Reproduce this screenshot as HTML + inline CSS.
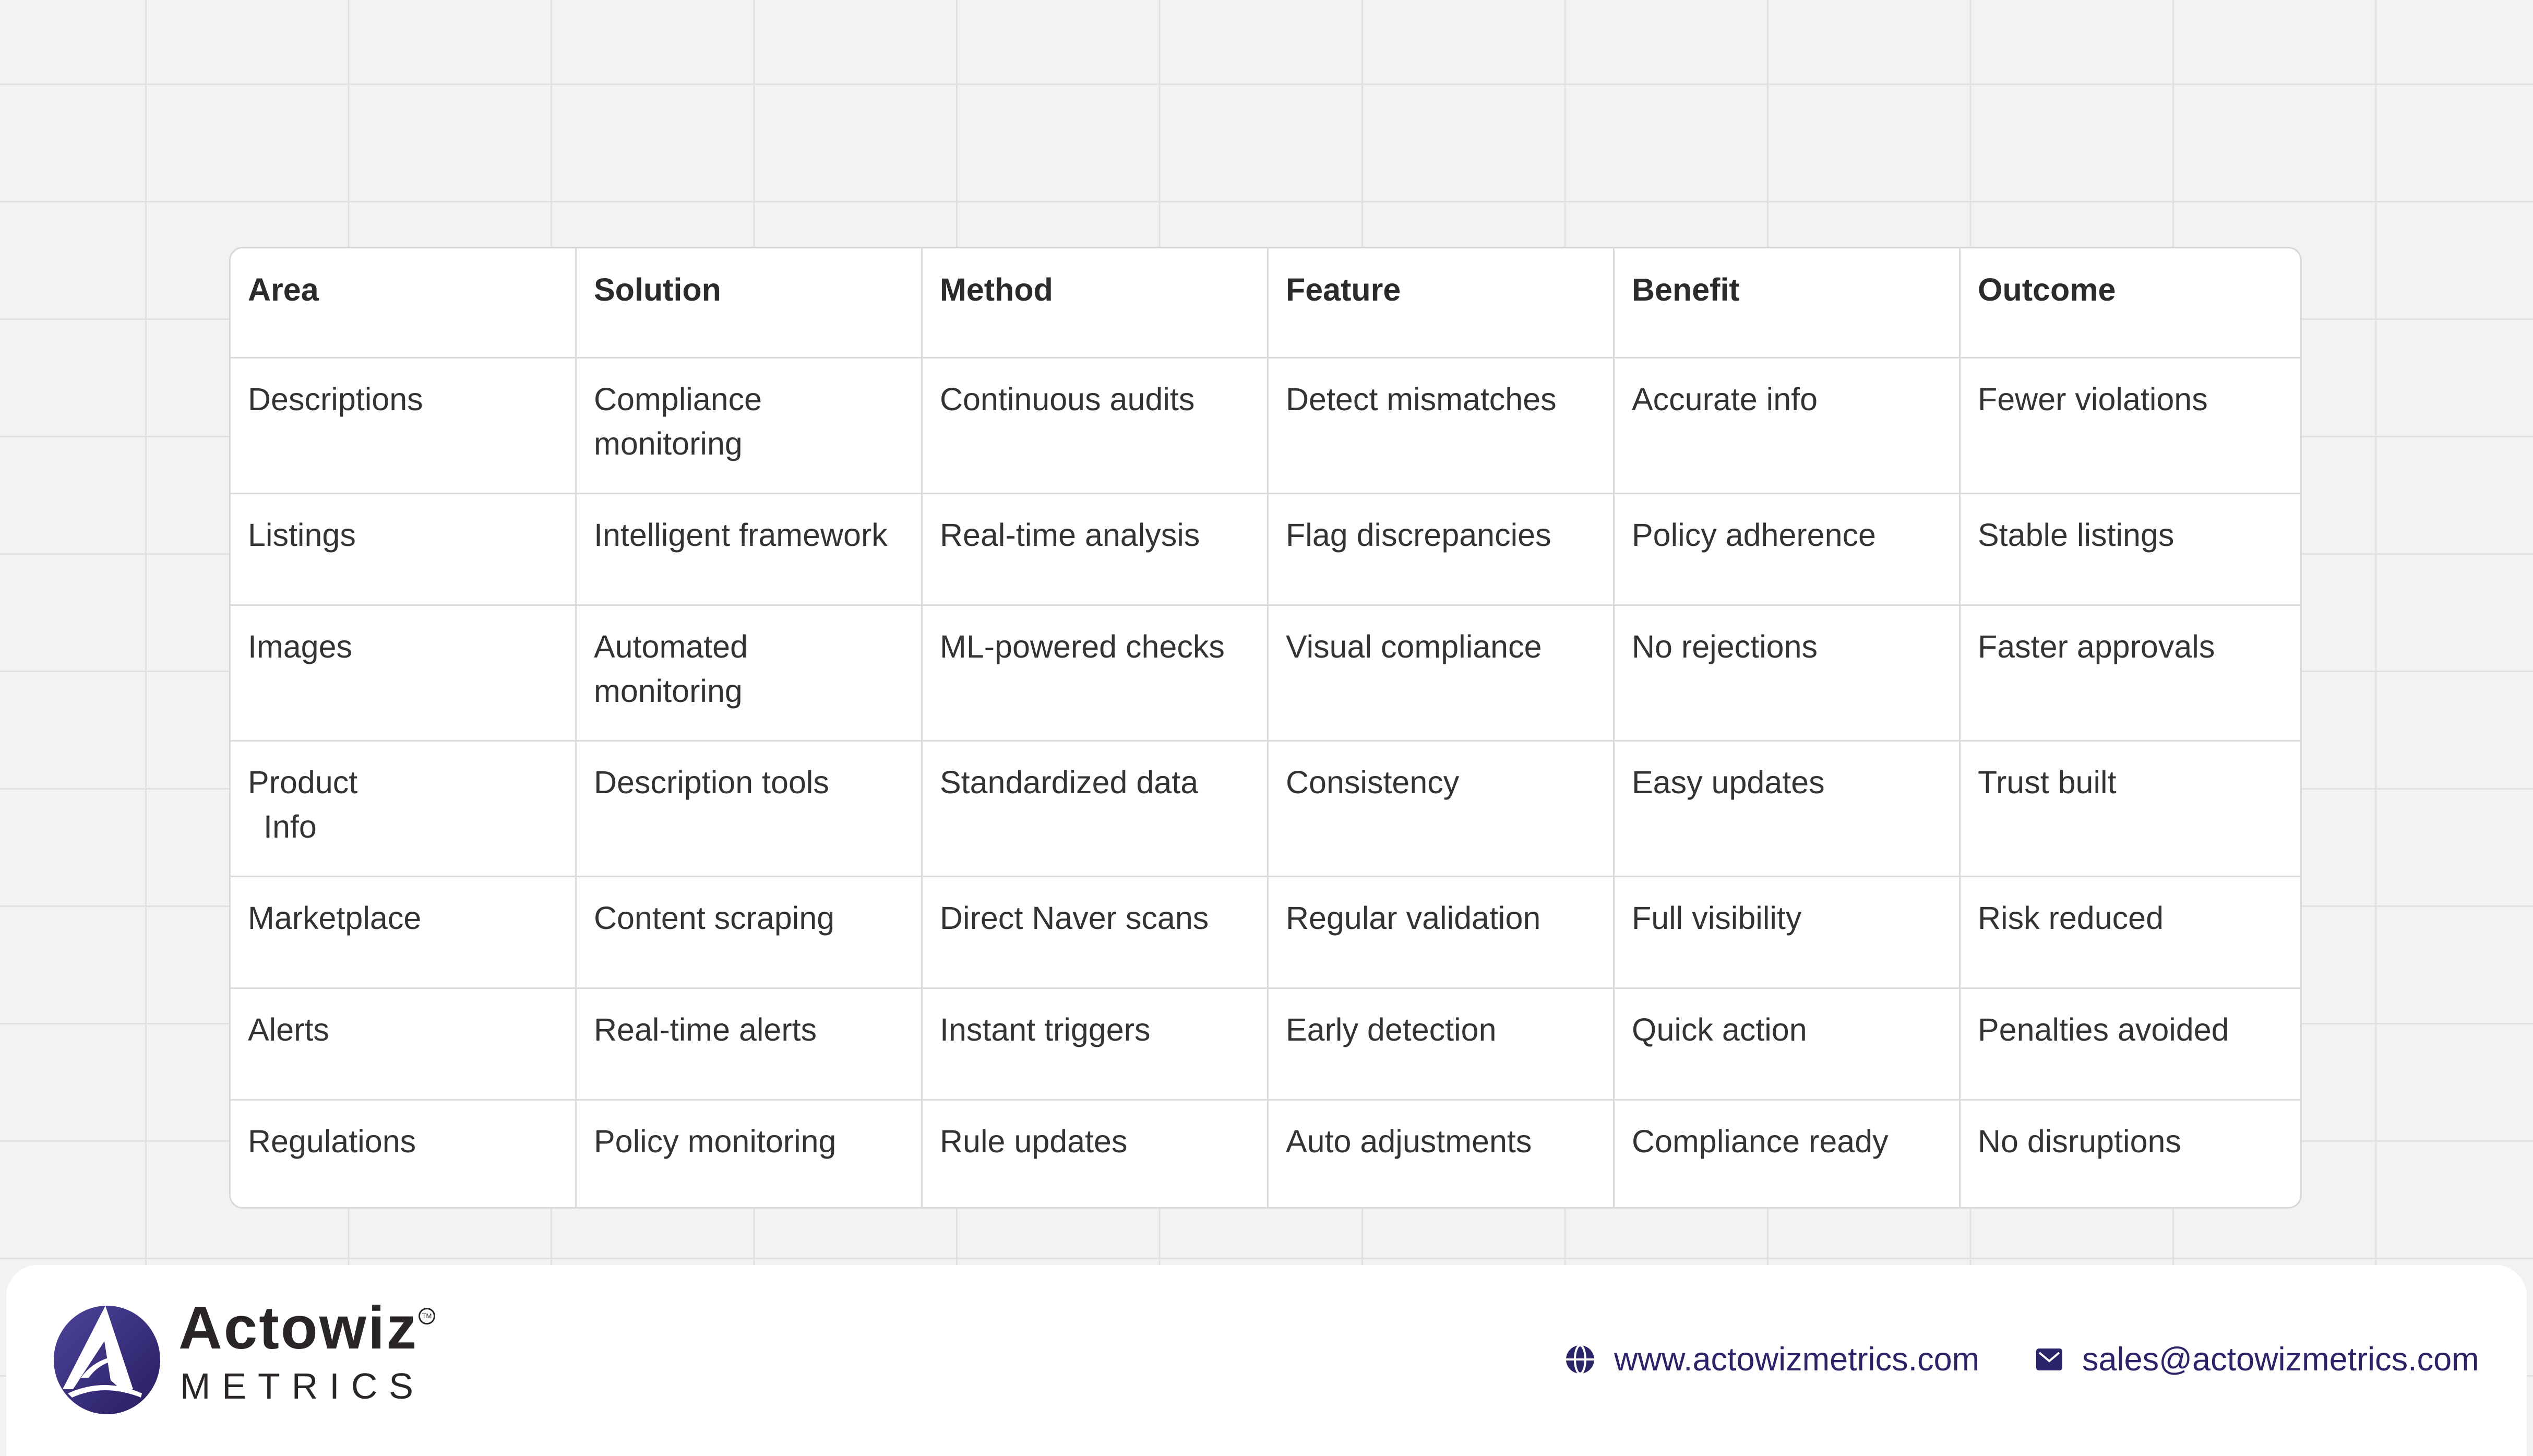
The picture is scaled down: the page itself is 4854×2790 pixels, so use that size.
<!DOCTYPE html>
<html><head><meta charset="utf-8">
<style>
html,body{margin:0;padding:0;overflow:hidden;}
body{width:4854px;height:2790px;position:relative;overflow:hidden;background-color:#f2f2f2;
background-image:linear-gradient(to right,#e1e1e1 3px,transparent 3px),linear-gradient(to bottom,#e1e1e1 3px,transparent 3px);
background-size:388.5px 225px;background-position:278px 160px;
font-family:"Liberation Sans",Arial,sans-serif;}
#tbl{position:absolute;left:439px;top:473px;width:3972px;height:1843px;background:#fff;border:3px solid #d8d8d8;border-radius:26px;box-sizing:border-box;overflow:hidden;}
.vl{position:absolute;top:0;bottom:0;width:3px;background:#dadada;}
.hl{position:absolute;left:0;right:0;height:3px;background:#dadada;}
.c{position:absolute;font-size:61px;line-height:85px;color:#333;white-space:nowrap;margin-top:-5px;margin-left:-3px;}
.h{font-weight:bold;color:#2b2b2b;}
#foot{position:absolute;left:12px;top:2424px;width:4830px;height:366px;background:#fff;border-radius:60px 60px 0 0;}
.ct{position:absolute;font-size:63px;color:#2b2468;line-height:70px;}
</style></head><body>
<div id="tbl">
<div class="vl" style="left:660px"></div><div class="vl" style="left:1323px"></div><div class="vl" style="left:1986px"></div><div class="vl" style="left:2649px"></div><div class="vl" style="left:3312px"></div>
<div class="hl" style="top:208px"></div><div class="hl" style="top:468px"></div><div class="hl" style="top:682px"></div><div class="hl" style="top:942px"></div><div class="hl" style="top:1202px"></div><div class="hl" style="top:1416px"></div><div class="hl" style="top:1630px"></div>

<div class="c h" style="left:36px;top:42px">Area</div><div class="c h" style="left:699px;top:42px">Solution</div><div class="c h" style="left:1362px;top:42px">Method</div><div class="c h" style="left:2025px;top:42px">Feature</div><div class="c h" style="left:2688px;top:42px">Benefit</div><div class="c h" style="left:3351px;top:42px">Outcome</div>

<div class="c" style="left:36px;top:252px">Descriptions</div><div class="c" style="left:699px;top:252px">Compliance<br>monitoring</div><div class="c" style="left:1362px;top:252px">Continuous audits</div><div class="c" style="left:2025px;top:252px">Detect mismatches</div><div class="c" style="left:2688px;top:252px">Accurate info</div><div class="c" style="left:3351px;top:252px">Fewer violations</div>

<div class="c" style="left:36px;top:512px">Listings</div><div class="c" style="left:699px;top:512px">Intelligent framework</div><div class="c" style="left:1362px;top:512px">Real-time analysis</div><div class="c" style="left:2025px;top:512px">Flag discrepancies</div><div class="c" style="left:2688px;top:512px">Policy adherence</div><div class="c" style="left:3351px;top:512px">Stable listings</div>

<div class="c" style="left:36px;top:726px">Images</div><div class="c" style="left:699px;top:726px">Automated<br>monitoring</div><div class="c" style="left:1362px;top:726px">ML-powered checks</div><div class="c" style="left:2025px;top:726px">Visual compliance</div><div class="c" style="left:2688px;top:726px">No rejections</div><div class="c" style="left:3351px;top:726px">Faster approvals</div>

<div class="c" style="left:36px;top:986px">Product<br><span style="padding-left:30px">Info</span></div><div class="c" style="left:699px;top:986px">Description tools</div><div class="c" style="left:1362px;top:986px">Standardized data</div><div class="c" style="left:2025px;top:986px">Consistency</div><div class="c" style="left:2688px;top:986px">Easy updates</div><div class="c" style="left:3351px;top:986px">Trust built</div>

<div class="c" style="left:36px;top:1246px">Marketplace</div><div class="c" style="left:699px;top:1246px">Content scraping</div><div class="c" style="left:1362px;top:1246px">Direct Naver scans</div><div class="c" style="left:2025px;top:1246px">Regular validation</div><div class="c" style="left:2688px;top:1246px">Full visibility</div><div class="c" style="left:3351px;top:1246px">Risk reduced</div>

<div class="c" style="left:36px;top:1460px">Alerts</div><div class="c" style="left:699px;top:1460px">Real-time alerts</div><div class="c" style="left:1362px;top:1460px">Instant triggers</div><div class="c" style="left:2025px;top:1460px">Early detection</div><div class="c" style="left:2688px;top:1460px">Quick action</div><div class="c" style="left:3351px;top:1460px">Penalties avoided</div>

<div class="c" style="left:36px;top:1674px">Regulations</div><div class="c" style="left:699px;top:1674px">Policy monitoring</div><div class="c" style="left:1362px;top:1674px">Rule updates</div><div class="c" style="left:2025px;top:1674px">Auto adjustments</div><div class="c" style="left:2688px;top:1674px">Compliance ready</div><div class="c" style="left:3351px;top:1674px">No disruptions</div>
</div>

<div id="foot">
<svg style="position:absolute;left:88px;top:76px" width="210" height="212" viewBox="0 0 210 212">
<defs><linearGradient id="g" x1="0" y1="0" x2="1" y2="1"><stop offset="0" stop-color="#4d449c"/><stop offset="1" stop-color="#271d5f"/></linearGradient></defs>
<ellipse cx="105" cy="106" rx="102" ry="104" fill="url(#g)"/>
<path d="M102 2 L20 162 L40 162 L100 70 L112 145 L135 165 L155 162 Z" fill="#fff"/>
<path d="M55 140 Q80 105 125 98 L125 106 Q90 112 70 140 Z" fill="#fff"/>
<path d="M38 178 Q100 150 170 178 L172 170 Q100 138 30 170 Z" fill="#fff"/>
</svg>
<div style="position:absolute;left:330px;top:55px;font-size:116px;font-weight:bold;color:#2a2627;line-height:130px;letter-spacing:3px">Actowiz</div>
<div style="position:absolute;left:790px;top:82px;width:26px;height:26px;border:3px solid #2a2627;border-radius:50%;font-size:13px;line-height:26px;text-align:center;color:#2a2627">TM</div>
<div style="position:absolute;left:333px;top:192px;font-size:70px;color:#2a2627;line-height:80px;letter-spacing:22px">METRICS</div>

<svg style="position:absolute;left:2986px;top:150px" width="60" height="62" viewBox="0 0 60 62">
<circle cx="30" cy="31" r="27" fill="#2b2468"/>
<ellipse cx="30" cy="31" rx="10" ry="27" fill="none" stroke="#fff" stroke-width="4"/>
<line x1="2" y1="31" x2="58" y2="31" stroke="#fff" stroke-width="4"/>
</svg>
<div class="ct" style="left:3081px;top:146px">www.actowizmetrics.com</div>
<svg style="position:absolute;left:3890px;top:160px" width="50" height="42" viewBox="0 0 50 42">
<rect x="0" y="0" width="50" height="42" rx="5" fill="#2b2468"/>
<path d="M6 8 L25 24 L44 8" fill="none" stroke="#fff" stroke-width="4"/>
</svg>
<div class="ct" style="left:3978px;top:146px">sales@actowizmetrics.com</div>
</div>
</body></html>
